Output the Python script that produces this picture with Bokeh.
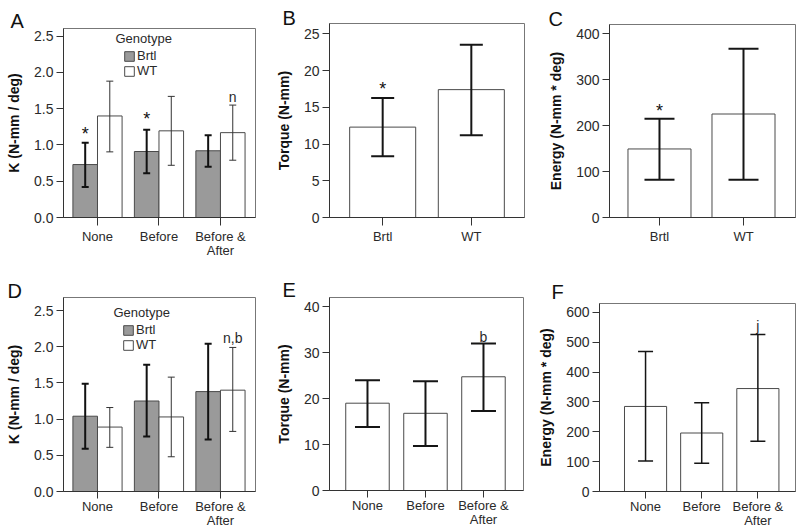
from bokeh.plotting import figure
from bokeh.layouts import row, column
from bokeh.models import (Range1d, FixedTicker, Whisker, TeeHead, ColumnDataSource,
                          Label, Legend, LegendItem)
from bokeh.core.properties import value
from bokeh.embed import file_html
from bokeh.resources import INLINE

FONT = "Liberation Sans"
TXT = "#2a2a2a"

# ---------------- data ----------------
treatments = ["None", "Before", "Before &\nAfter"]
genotypes = ["Brtl", "WT"]

# Panel A: stiffness K by treatment and genotype
A_brtl = [0.73, 0.91, 0.92]
A_brtl_hi = [1.03, 1.21, 1.135]
A_brtl_lo = [0.42, 0.61, 0.70]
A_wt = [1.40, 1.195, 1.17]
A_wt_hi = [1.88, 1.67, 1.55]
A_wt_lo = [0.905, 0.72, 0.79]
A_marks = ["*", "*", "", "", "", "n"]          # Brtl x3, WT x3
A_mark_y = [1.18, 1.38, 0, 0, 0, 1.66]

# Panel B: torque by genotype
B_mean = [12.3, 17.4]
B_hi = [16.25, 23.5]
B_lo = [8.33, 11.2]
B_marks = ["*", ""]
B_mark_y = [17.7, 0]

# Panel C: energy by genotype
C_mean = [149, 225]
C_hi = [214.5, 367]
C_lo = [82, 82]
C_marks = ["*", ""]
C_mark_y = [236, 0]

# Panel D: stiffness K by treatment and genotype
D_brtl = [1.04, 1.25, 1.38]
D_brtl_hi = [1.49, 1.75, 2.04]
D_brtl_lo = [0.59, 0.76, 0.72]
D_wt = [0.89, 1.03, 1.40]
D_wt_hi = [1.16, 1.58, 1.99]
D_wt_lo = [0.61, 0.48, 0.83]
D_marks = ["", "", "", "", "", "n,b"]
D_mark_y = [0, 0, 0, 0, 0, 2.12]

# Panel E: torque by treatment
E_mean = [19.0, 16.8, 24.75]
E_hi = [24.0, 23.8, 32.0]
E_lo = [13.8, 9.7, 17.3]
E_marks = ["", "", "b"]
E_mark_y = [0, 0, 33.5]

# Panel F: energy by treatment
F_mean = [285, 196, 345]
F_hi = [469, 297, 526]
F_lo = [102, 95, 168]
F_marks = ["", "", "j"]
F_mark_y = [0, 0, 555]

k_ticks = [0, 0.5, 1.0, 1.5, 2.0, 2.5]
k_tick_labels = ["0.0", "0.5", "1.0", "1.5", "2.0", "2.5"]
tq_ticks_B = [0, 5, 10, 15, 20, 25]
en_ticks_C = [0, 100, 200, 300, 400]
tq_ticks_E = [0, 10, 20, 30, 40]
en_ticks_F = [0, 100, 200, 300, 400, 500, 600]

GRAY = "#9a9a9a"
EDGE = "#4a4a4a"


def make_fig(width, height, bl, br, bt, bb, xr, yr, yticks, ylabels, xlabels, ylabel,
             letter, loff, lstand, tick_out=8, lab_stand=3):
    p = figure(width=width, height=height, min_border_left=bl, min_border_right=br,
               min_border_top=bt, min_border_bottom=bb, x_range=Range1d(*xr),
               y_range=Range1d(*yr), output_backend="svg", toolbar_location=None,
               tools="")
    p.frame_align = False
    p.xgrid.visible = False
    p.ygrid.visible = False
    p.outline_line_color = "#777777"
    p.outline_line_width = 1
    p.background_fill_color = "white"
    p.border_fill_color = "white"

    p.title.text = letter
    p.title.align = "left"
    p.title.offset = loff
    p.title.standoff = lstand
    p.title.text_font = FONT
    p.title.text_font_size = "20px"
    p.title.text_font_style = "normal"
    p.title.text_color = "#111111"

    ya = p.yaxis[0]
    ya.ticker = FixedTicker(ticks=yticks)
    ya.major_label_overrides = {t: l for t, l in zip(yticks, ylabels)}
    ya.minor_tick_line_color = None
    ya.major_tick_in = 0
    ya.major_tick_out = 7
    ya.major_label_standoff = 3
    ya.axis_line_color = "#333333"
    ya.major_tick_line_color = "#333333"
    ya.major_label_text_font = FONT
    ya.major_label_text_font_size = "14px"
    ya.major_label_text_color = TXT
    ya.axis_label = ylabel
    ya.axis_label_text_font = FONT
    ya.axis_label_text_font_style = "bold"
    ya.axis_label_text_font_size = "14px"
    ya.axis_label_text_color = "#111111"
    ya.axis_label_standoff = 9

    n = len(xlabels)
    xticks = [i + 1 for i in range(n)]
    xa = p.xaxis[0]
    xa.ticker = FixedTicker(ticks=xticks)
    xa.major_label_overrides = {t: l for t, l in zip(xticks, xlabels)}
    xa.minor_tick_line_color = None
    xa.major_tick_in = 0
    xa.major_tick_out = tick_out
    xa.major_label_standoff = lab_stand
    xa.axis_line_color = "#333333"
    xa.major_tick_line_color = "#333333"
    xa.major_label_text_font = FONT
    xa.major_label_text_font_size = "13px"
    xa.major_label_text_color = TXT
    xa.major_label_text_line_height = 0.95
    return p


def add_whisker(p, xs, lo, hi, width, head, color):
    src = ColumnDataSource(dict(x=xs, lo=lo, hi=hi))
    w = Whisker(source=src, base="x", lower="lo", upper="hi", dimension="height",
                line_width=width, line_color=color,
                upper_head=TeeHead(size=head, line_width=width, line_color=color),
                lower_head=TeeHead(size=head, line_width=width, line_color=color))
    w.level = "annotation"
    p.add_layout(w)


def add_marks(p, xs, ys, marks):
    sel = [(x, y, m) for x, y, m in zip(xs, ys, marks) if m]
    stars = [s for s in sel if s[2] == "*"]
    others = [s for s in sel if s[2] != "*"]
    if stars:
        p.text(x=[s[0] for s in stars], y=[s[1] for s in stars], text=[s[2] for s in stars],
               text_font=value(FONT), text_font_size="18px", text_align="center",
               text_baseline="middle", text_color="#111111", y_offset=2)
    if others:
        p.text(x=[s[0] for s in others], y=[s[1] for s in others], text=[s[2] for s in others],
               text_font=value(FONT), text_font_size="14px", text_align="center",
               text_baseline="middle", text_color=TXT)


def grouped_panel(p, brtl, brtl_lo, brtl_hi, wt, wt_lo, wt_hi, marks, mark_y,
                  lg_title_xy, lg_xy):
    xc = [i + 1 for i in range(len(brtl))]
    xb = [x - 0.2 for x in xc]
    xw = [x + 0.2 for x in xc]
    rb = p.vbar(x=xb, top=brtl, bottom=0, width=0.4, fill_color=GRAY, line_color=EDGE,
                line_width=1)
    rw = p.vbar(x=xw, top=wt, bottom=0, width=0.4, fill_color="white", line_color=EDGE,
                line_width=1)
    add_whisker(p, xb, brtl_lo, brtl_hi, 2, 7, "#111111")
    add_whisker(p, xw, wt_lo, wt_hi, 1, 7, "#333333")
    add_marks(p, xb + xw, mark_y, marks)
    p.add_layout(Label(x=lg_title_xy[0], y=lg_title_xy[1], x_units="screen", y_units="screen",
                       text="Genotype", text_font=FONT, text_font_size="13px",
                       text_baseline="middle", text_color=TXT))
    lg = Legend(items=[LegendItem(label=genotypes[0], renderers=[rb]),
                       LegendItem(label=genotypes[1], renderers=[rw])],
                location=lg_xy, padding=0, margin=0, spacing=-1, border_line_color=None,
                background_fill_alpha=0, glyph_width=12, glyph_height=12, label_height=12,
                label_standoff=2, label_text_font=FONT, label_text_font_size="13px",
                label_text_color=TXT)
    p.add_layout(lg, "center")


def simple_panel(p, mean, lo, hi, bw, head, lw, marks, mark_y):
    xc = [i + 1 for i in range(len(mean))]
    p.vbar(x=xc, top=mean, bottom=0, width=bw, fill_color="white", line_color=EDGE,
           line_width=1)
    add_whisker(p, xc, lo, hi, lw, head, "#151515")
    add_marks(p, xc, mark_y, marks)


# Row 1 (y 0..265)
pA = make_fig(270, 265, 63, 15, 28, 48, (0.447, 3.57), (0, 2.606), k_ticks, k_tick_labels,
              treatments, "K (N-mm / deg)", "A", -53, -6)
grouped_panel(pA, A_brtl, A_brtl_lo, A_brtl_hi, A_wt, A_wt_lo, A_wt_hi, A_marks, A_mark_y,
              (52, 179), (60, 139))

pB = make_fig(272, 265, 59, 18, 23, 48, (0.4, 2.6), (0, 26.4), tq_ticks_B,
              [str(t) for t in tq_ticks_B], genotypes, "Torque (N-mm)", "B", -47, -11)
simple_panel(pB, B_mean, B_lo, B_hi, 0.745, 23, 2, B_marks, B_mark_y)

pC = make_fig(258, 265, 67, 5, 24, 48, (0.405, 2.619), (0, 419.6), en_ticks_C,
              [str(t) for t in en_ticks_C], genotypes, "Energy (N-mm * deg)", "C", -61, -11)
simple_panel(pC, C_mean, C_lo, C_hi, 0.75, 30, 2, C_marks, C_mark_y)

# Row 2 (y 265..531)
pD = make_fig(270, 266, 63, 15, 32, 40, (0.447, 3.57), (0, 2.68), k_ticks, k_tick_labels,
              treatments, "K (N-mm / deg)", "D", -56, -8, tick_out=7, lab_stand=0)
grouped_panel(pD, D_brtl, D_brtl_lo, D_brtl_hi, D_wt, D_wt_lo, D_wt_hi, D_marks, D_mark_y,
              (50, 179), (59, 139))

pE = make_fig(262, 266, 59, 9, 32, 41, (0.345, 3.69), (0, 42), tq_ticks_E,
              [str(t) for t in tq_ticks_E], treatments, "Torque (N-mm)", "E", -47, -7,
              tick_out=7, lab_stand=0)
simple_panel(pE, E_mean, E_lo, E_hi, 0.75, 25, 2, E_marks, E_mark_y)

pF = make_fig(268, 266, 67, 5, 38, 40, (0.18, 3.67), (0, 630), en_ticks_F,
              [str(t) for t in en_ticks_F], treatments, "Energy (N-mm * deg)", "F", -48, 2,
              tick_out=7, lab_stand=0)
simple_panel(pF, F_mean, F_lo, F_hi, 0.75, 15, 1.5, F_marks, F_mark_y)

layout = column(row(pA, pB, pC), row(pD, pE, pF))
open("out.html", "w").write(file_html(layout, INLINE))
